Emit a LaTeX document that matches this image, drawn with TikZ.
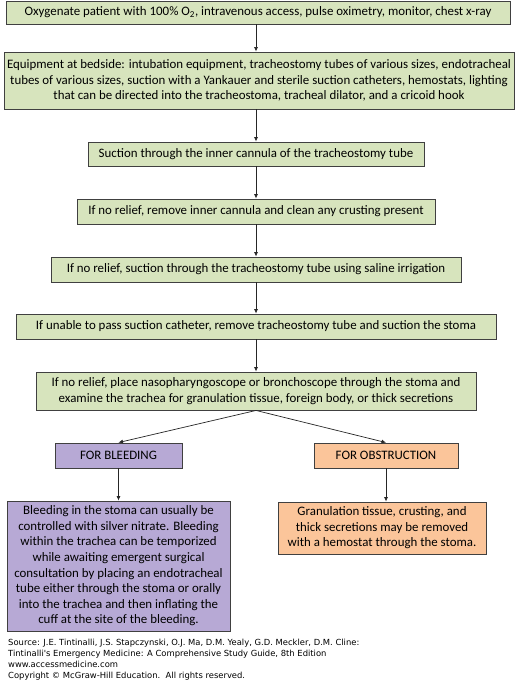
\documentclass[tikz,border=0pt]{standalone}
\usepackage{fontspec}
\setmainfont{Carlito}
\newfontfamily\footfont{DejaVu Sans}
\usetikzlibrary{arrows.meta}
\definecolor{gfill}{HTML}{D7E4BD}
\definecolor{pfill}{HTML}{B7A9D5}
\definecolor{ofill}{HTML}{FBC59A}
\definecolor{bord}{HTML}{404040}
\begin{document}
\begin{tikzpicture}[x=1pt,y=-1pt,
  box/.style={draw=bord, line width=0.9pt, inner sep=0pt, align=center, font=\fontsize{12.9}{15.6}\selectfont},
  gbox/.style={box, fill=gfill},
  pbox/.style={box, fill=pfill},
  obox/.style={box, fill=ofill},
  arr/.style={-{Latex[length=4.5pt,width=4pt]}, line width=0.7pt, draw=black!85}]
\fill[white] (0,0) rectangle (520,682);
\useasboundingbox (0,0) rectangle (520,682);

\node[gbox, minimum width=504pt, minimum height=23pt] (b1) at (258,12.5)
  {Oxygenate patient with 100\% O\textsubscript{2}, intravenous access, pulse oximetry, monitor, chest x-ray};
\node[gbox, minimum width=510pt, minimum height=57pt] (b2) at (259,80.5)
  {Equipment at bedside: intubation equipment, tracheostomy tubes of various sizes, endotracheal\\
   tubes of various sizes, suction with a Yankauer and sterile suction catheters, hemostats, lighting\\
   that can be directed into the tracheostoma, tracheal dilator, and a cricoid hook};
\node[gbox, minimum width=336pt, minimum height=24pt] (b3) at (256,154)
  {Suction through the inner cannula of the tracheostomy tube};
\node[gbox, minimum width=358pt, minimum height=25pt] (b4) at (256,211.5)
  {If no relief, remove inner cannula and clean any crusting present};
\node[gbox, minimum width=410pt, minimum height=25pt] (b5) at (256,269.5)
  {If no relief, suction through the tracheostomy tube using saline irrigation};
\node[gbox, minimum width=480pt, minimum height=25pt] (b6) at (256,326.5)
  {If unable to pass suction catheter, remove tracheostomy tube and suction the stoma};
\node[gbox, minimum width=440pt, minimum height=38pt] (b7) at (256,391)
  {If no relief, place nasopharyngoscope or bronchoscope through the stoma and\\
   examine the trachea for granulation tissue, foreign body, or thick secretions};
\node[pbox, minimum width=127pt, minimum height=25pt] (bh) at (118.5,455.5) {FOR BLEEDING};
\node[obox, minimum width=144pt, minimum height=25pt] (oh) at (386,455.5) {FOR OBSTRUCTION};
\node[pbox, minimum width=223pt, minimum height=130pt] (bb) at (118.5,566)
  {Bleeding in the stoma can usually be\\
   controlled with silver nitrate. Bleeding\\
   within the trachea can be temporized\\
   while awaiting emergent surgical\\
   consultation by placing an endotracheal\\
   tube either through the stoma or orally\\
   into the trachea and then inflating the\\
   cuff at the site of the bleeding.};
\node[obox, minimum width=208pt, minimum height=52pt] (ob) at (382,528)
  {Granulation tissue, crusting, and\\
   thick secretions may be removed\\
   with a hemostat through the stoma.};

\draw[arr] (b1.south -| 256,0) -- (b2.north -| 256,0);
\draw[arr] (b2.south -| 256,0) -- (b3.north);
\draw[arr] (b3.south) -- (b4.north);
\draw[arr] (b4.south) -- (b5.north);
\draw[arr] (b5.south) -- (b6.north);
\draw[arr] (b6.south) -- (b7.north);
\draw[arr] (b7.south) -- (bh.north);
\draw[arr] (b7.south) -- (oh.north);
\draw[arr] (bh.south) -- (bh.south |- bb.north);
\draw[arr] (oh.south) -- (oh.south |- ob.north);

\node[anchor=north west, align=left, inner sep=0pt, font=\footfont\fontsize{8.4}{11}\selectfont] (foot) at (8,638.5)
  {Source: J.E. Tintinalli, J.S. Stapczynski, O.J. Ma, D.M. Yealy, G.D. Meckler, D.M. Cline:\\
   Tintinalli's Emergency Medicine: A Comprehensive Study Guide, 8th Edition\\
   www.accessmedicine.com\\
   Copyright © McGraw-Hill Education.\ \ All rights reserved.};
\end{tikzpicture}
\end{document}
